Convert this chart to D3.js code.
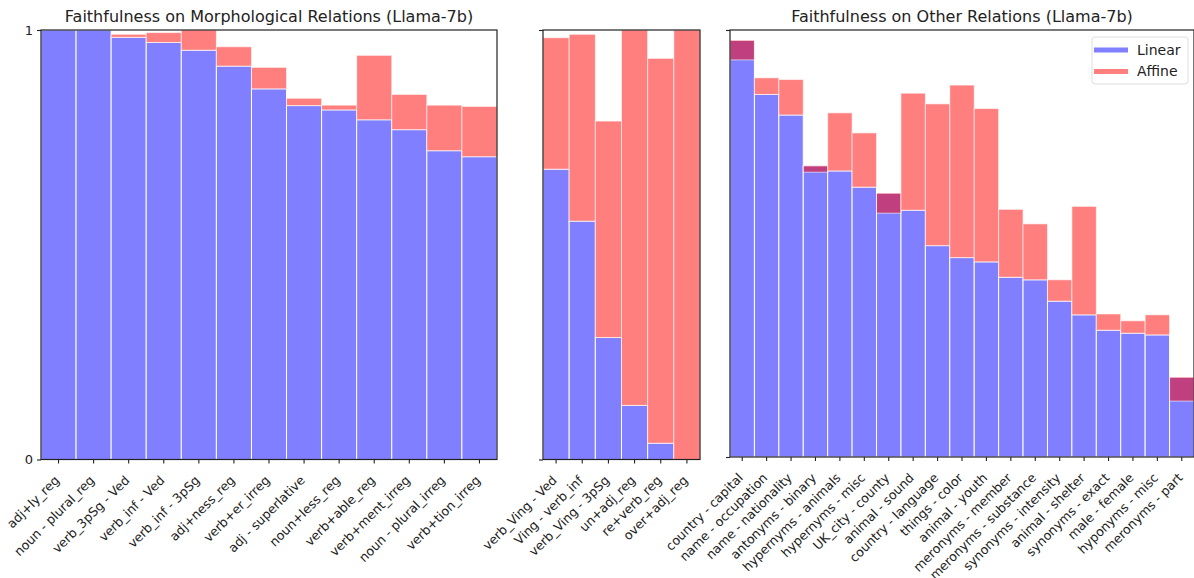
<!DOCTYPE html>
<html>
<head>
<meta charset="utf-8">
<script src="https://cdn.jsdelivr.net/npm/d3@7"></script>
<style>
  body { margin: 0; background: #fff; }
  svg { font-family: "DejaVu Sans", sans-serif; }
</style>
</head>
<body>
<div id="chart"></div>
<script>
// morphological relations, panel 1
const morphCats = ['adj+ly_reg', 'noun - plural_reg', 'verb_3pSg - Ved', 'verb_inf - Ved', 'verb_inf - 3pSg',
    'adj+ness_reg', 'verb+er_irreg', 'adj - superlative', 'noun+less_reg', 'verb+able_reg',
    'verb+ment_irreg', 'noun - plural_irreg', 'verb+tion_irreg'];
const morphLinear = [1.0, 1.0, 0.983, 0.971, 0.953, 0.916, 0.863, 0.824, 0.814, 0.791, 0.768, 0.719, 0.705];
const morphAffine = [1.0, 1.0, 0.990, 0.994, 1.0, 0.961, 0.913, 0.841, 0.825, 0.941, 0.850, 0.825, 0.822];

// morphological relations, panel 2
const vingCats = ['verb_Ving - Ved', 'Ving - verb_inf', 'verb_Ving - 3pSg', 'un+adj_reg', 're+verb_reg', 'over+adj_reg'];
const vingLinear = [0.676, 0.555, 0.284, 0.126, 0.038, 0.0];
const vingAffine = [0.982, 0.990, 0.788, 1.0, 0.934, 1.0];

// other relations
const otherCats = ['country - capital', 'name - occupation', 'name - nationality', 'antonyms - binary',
    'hypernyms - animals', 'hypernyms - misc', 'UK_city - county', 'animal - sound', 'country - language',
    'things - color', 'animal - youth', 'meronyms - member', 'meronyms - substance', 'synonyms - intensity',
    'animal - shelter', 'synonyms - exact', 'male - female', 'hyponyms - misc', 'meronyms - part'];
const otherLinear = [0.976, 0.849, 0.801, 0.682, 0.670, 0.632, 0.618, 0.578, 0.495, 0.467, 0.457,
    0.421, 0.415, 0.365, 0.333, 0.297, 0.290, 0.286, 0.187];
const otherAffine = [0.930, 0.888, 0.884, 0.667, 0.806, 0.759, 0.571, 0.852, 0.827, 0.871, 0.816,
    0.580, 0.546, 0.415, 0.587, 0.335, 0.319, 0.333, 0.131];

const titles = ['Faithfulness on Morphological Relations (Llama-7b)', '', 'Faithfulness on Other Relations (Llama-7b)'];
const seriesNames = ['Linear', 'Affine'];

const width = 1194, height = 578;
const svg = d3.select('#chart').append('svg')
    .attr('width', width)
    .attr('height', height);

const panels = [
    { cats: morphCats, lin: morphLinear, aff: morphAffine, left: 41, right: 497, top: 30, bottom: 459.5, yLabels: true },
    { cats: vingCats, lin: vingLinear, aff: vingAffine, left: 543, right: 700, top: 30, bottom: 459.5, yLabels: false },
    { cats: otherCats, lin: otherLinear, aff: otherAffine, left: 730, right: 1194, top: 30, bottom: 457, yLabels: false }
];

panels.forEach((p, i) => {
    const x = d3.scaleBand().domain(p.cats).range([p.left, p.right]).padding(0);
    const y = d3.scaleLinear().domain([0, 1]).range([p.bottom, p.top]);
    const g = svg.append('g').attr('class', 'panel');

    /* linear bars */
    g.selectAll('.lin')
        .data(p.cats)
        .join('rect')
        .attr('class', 'lin')
        .attr('x', d => x(d))
        .attr('width', x.bandwidth())
        .attr('y', (d, k) => y(p.lin[k]))
        .attr('height', (d, k) => y(0) - y(p.lin[k]))
        .attr('fill', 'rgb(0,0,255)')
        .attr('fill-opacity', 0.5)
        .attr('stroke', '#fff')
        .attr('stroke-width', 1);

    /* affine drawn on top of linear, from linear to affine */
    g.selectAll('.aff')
        .data(p.cats)
        .join('rect')
        .attr('class', 'aff')
        .attr('x', d => x(d))
        .attr('width', x.bandwidth())
        .attr('y', (d, k) => y(Math.max(p.lin[k], p.aff[k])))
        .attr('height', (d, k) => Math.abs(y(p.lin[k]) - y(p.aff[k])))
        .attr('fill', 'rgb(255,0,0)')
        .attr('fill-opacity', 0.5)
        .attr('stroke', 'rgba(255,255,255,0.6)')
        .attr('stroke-width', 1);

    /* frame */
    g.append('rect')
        .attr('x', p.left)
        .attr('y', p.top)
        .attr('width', p.right - p.left)
        .attr('height', p.bottom - p.top)
        .attr('fill', 'none')
        .attr('stroke', '#222')
        .attr('stroke-width', 1.2);

    /* x axis */
    const xAxis = g.append('g')
        .attr('transform', `translate(0,${p.bottom})`)
        .call(d3.axisBottom(x).tickSize(4).tickFormat(''));
    xAxis.select('.domain').remove();
    xAxis.selectAll('line').attr('stroke', '#222').attr('stroke-width', 1.1);

    g.selectAll('.xlab')
        .data(p.cats)
        .join('text')
        .attr('class', 'xlab')
        .attr('transform', d => `translate(${x(d) + x.bandwidth() / 2 - 1.5},${p.bottom + 18.5}) rotate(-45)`)
        .attr('text-anchor', 'end')
        .attr('dy', '0.35em')
        .attr('font-size', 12.6)
        .attr('fill', '#222')
        .text(d => d);

    /* y axis */
    const yAxis = g.append('g')
        .attr('transform', `translate(${p.left},0)`)
        .call(d3.axisLeft(y).tickValues([0, 1]).tickSize(4)
            .tickFormat(p.yLabels ? d3.format('d') : ''));
    yAxis.select('.domain').remove();
    yAxis.selectAll('line').attr('stroke', '#222').attr('stroke-width', 1.1);
    yAxis.selectAll('text').attr('font-size', 13).attr('fill', '#222')
        .attr('font-family', '"DejaVu Sans", sans-serif').attr('x', -8);

    if (titles[i]) {
        g.append('text')
            .attr('x', (p.left + p.right) / 2)
            .attr('y', p.top - 8)
            .attr('text-anchor', 'middle')
            .attr('font-size', 16)
            .attr('fill', '#222')
            .text(titles[i]);
    }
});

/* legend */
const legend = svg.append('g').attr('transform', 'translate(1092,37)');
legend.append('rect')
    .attr('width', 96)
    .attr('height', 47)
    .attr('rx', 3)
    .attr('fill', '#fff')
    .attr('fill-opacity', 0.8)
    .attr('stroke', '#ddd');
legend.selectAll('line')
    .data(seriesNames)
    .join('line')
    .attr('x1', 2)
    .attr('x2', 36)
    .attr('y1', (d, i) => 13 + i * 21.5)
    .attr('y2', (d, i) => 13 + i * 21.5)
    .attr('stroke', (d, i) => i === 0 ? 'rgb(0,0,255)' : 'rgb(255,0,0)')
    .attr('stroke-opacity', 0.5)
    .attr('stroke-width', 5);
legend.selectAll('text')
    .data(seriesNames)
    .join('text')
    .attr('x', 45)
    .attr('y', (d, i) => 13 + i * 21.5)
    .attr('dy', '0.35em')
    .attr('font-size', 14)
    .attr('fill', '#222')
    .text(d => d);
</script>
</body>
</html>
